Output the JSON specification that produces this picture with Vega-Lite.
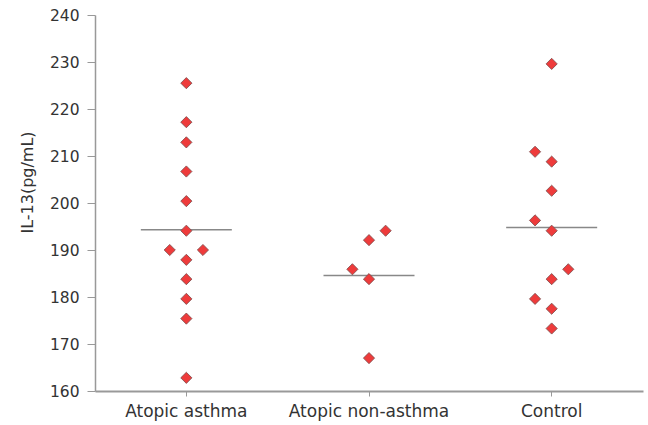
{
  "$schema": "https://vega.github.io/schema/vega-lite/v6.json",
  "width": 548,
  "height": 376,
  "autosize": {"type": "none"},
  "padding": {"left": 95, "top": 15, "right": 5, "bottom": 34},
  "background": "white",
  "config": {
    "view": {"stroke": null},
    "font": "DejaVu Sans",
    "axis": {"grid": false, "domainColor": "#999999", "tickColor": "#999999", "labelColor": "#333333", "titleColor": "#333333", "labelFont": "DejaVu Sans", "titleFont": "DejaVu Sans", "domainWidth": 1.5}
  },
  "data": {
    "values": [
      {"group": "Atopic asthma", "value": 225.5, "jitter": 0},
      {"group": "Atopic asthma", "value": 217.2, "jitter": 0},
      {"group": "Atopic asthma", "value": 212.9, "jitter": 0},
      {"group": "Atopic asthma", "value": 206.7, "jitter": 0},
      {"group": "Atopic asthma", "value": 200.4, "jitter": 0},
      {"group": "Atopic asthma", "value": 194.1, "jitter": 0},
      {"group": "Atopic asthma", "value": 190.0, "jitter": -1},
      {"group": "Atopic asthma", "value": 190.0, "jitter": 1},
      {"group": "Atopic asthma", "value": 187.9, "jitter": 0},
      {"group": "Atopic asthma", "value": 183.8, "jitter": 0},
      {"group": "Atopic asthma", "value": 179.6, "jitter": 0},
      {"group": "Atopic asthma", "value": 175.4, "jitter": 0},
      {"group": "Atopic asthma", "value": 162.8, "jitter": 0},
      {"group": "Atopic non-asthma", "value": 194.1, "jitter": 1},
      {"group": "Atopic non-asthma", "value": 192.1, "jitter": 0},
      {"group": "Atopic non-asthma", "value": 185.9, "jitter": -1},
      {"group": "Atopic non-asthma", "value": 183.8, "jitter": 0},
      {"group": "Atopic non-asthma", "value": 167.0, "jitter": 0},
      {"group": "Control", "value": 229.6, "jitter": 0},
      {"group": "Control", "value": 210.9, "jitter": -1},
      {"group": "Control", "value": 208.8, "jitter": 0},
      {"group": "Control", "value": 202.6, "jitter": 0},
      {"group": "Control", "value": 196.3, "jitter": -1},
      {"group": "Control", "value": 194.1, "jitter": 0},
      {"group": "Control", "value": 185.9, "jitter": 1},
      {"group": "Control", "value": 183.8, "jitter": 0},
      {"group": "Control", "value": 179.6, "jitter": -1},
      {"group": "Control", "value": 177.5, "jitter": 0},
      {"group": "Control", "value": 173.3, "jitter": 0}
    ]
  },
  "encoding": {
    "x": {
      "field": "group", "type": "nominal", "sort": null,
      "scale": {"type": "band", "paddingInner": 0, "paddingOuter": 0},
      "axis": {"title": null, "labelAngle": 0, "tickSize": 5, "labelPadding": 7, "domainWidth": 2, "labelFontSize": 17}
    },
    "y": {
      "field": "value", "type": "quantitative",
      "scale": {"domain": [160, 240], "nice": false, "zero": false},
      "axis": {"title": "IL-13(pg/mL)", "titleFontSize": 16, "titleFontWeight": "normal", "labelFontSize": 15.5, "values": [160, 170, 180, 190, 200, 210, 220, 230, 240], "tickSize": 8, "labelPadding": 8, "titlePadding": 14, "titleY": 167}
    }
  },
  "layer": [
    {
      "mark": {"type": "tick", "color": "#888888", "size": 91, "thickness": 1.5},
      "encoding": {
        "y": {"aggregate": "mean", "field": "value", "type": "quantitative"}
      }
    },
    {
      "mark": {"type": "point", "shape": "diamond", "filled": true, "fill": "#ee3b3b", "stroke": "#7a4a4a", "strokeWidth": 0.8, "size": 125, "opacity": 1},
      "encoding": {
        "xOffset": {"field": "jitter", "type": "quantitative", "scale": {"domain": [-5.5, 5.5]}}
      }
    }
  ]
}
